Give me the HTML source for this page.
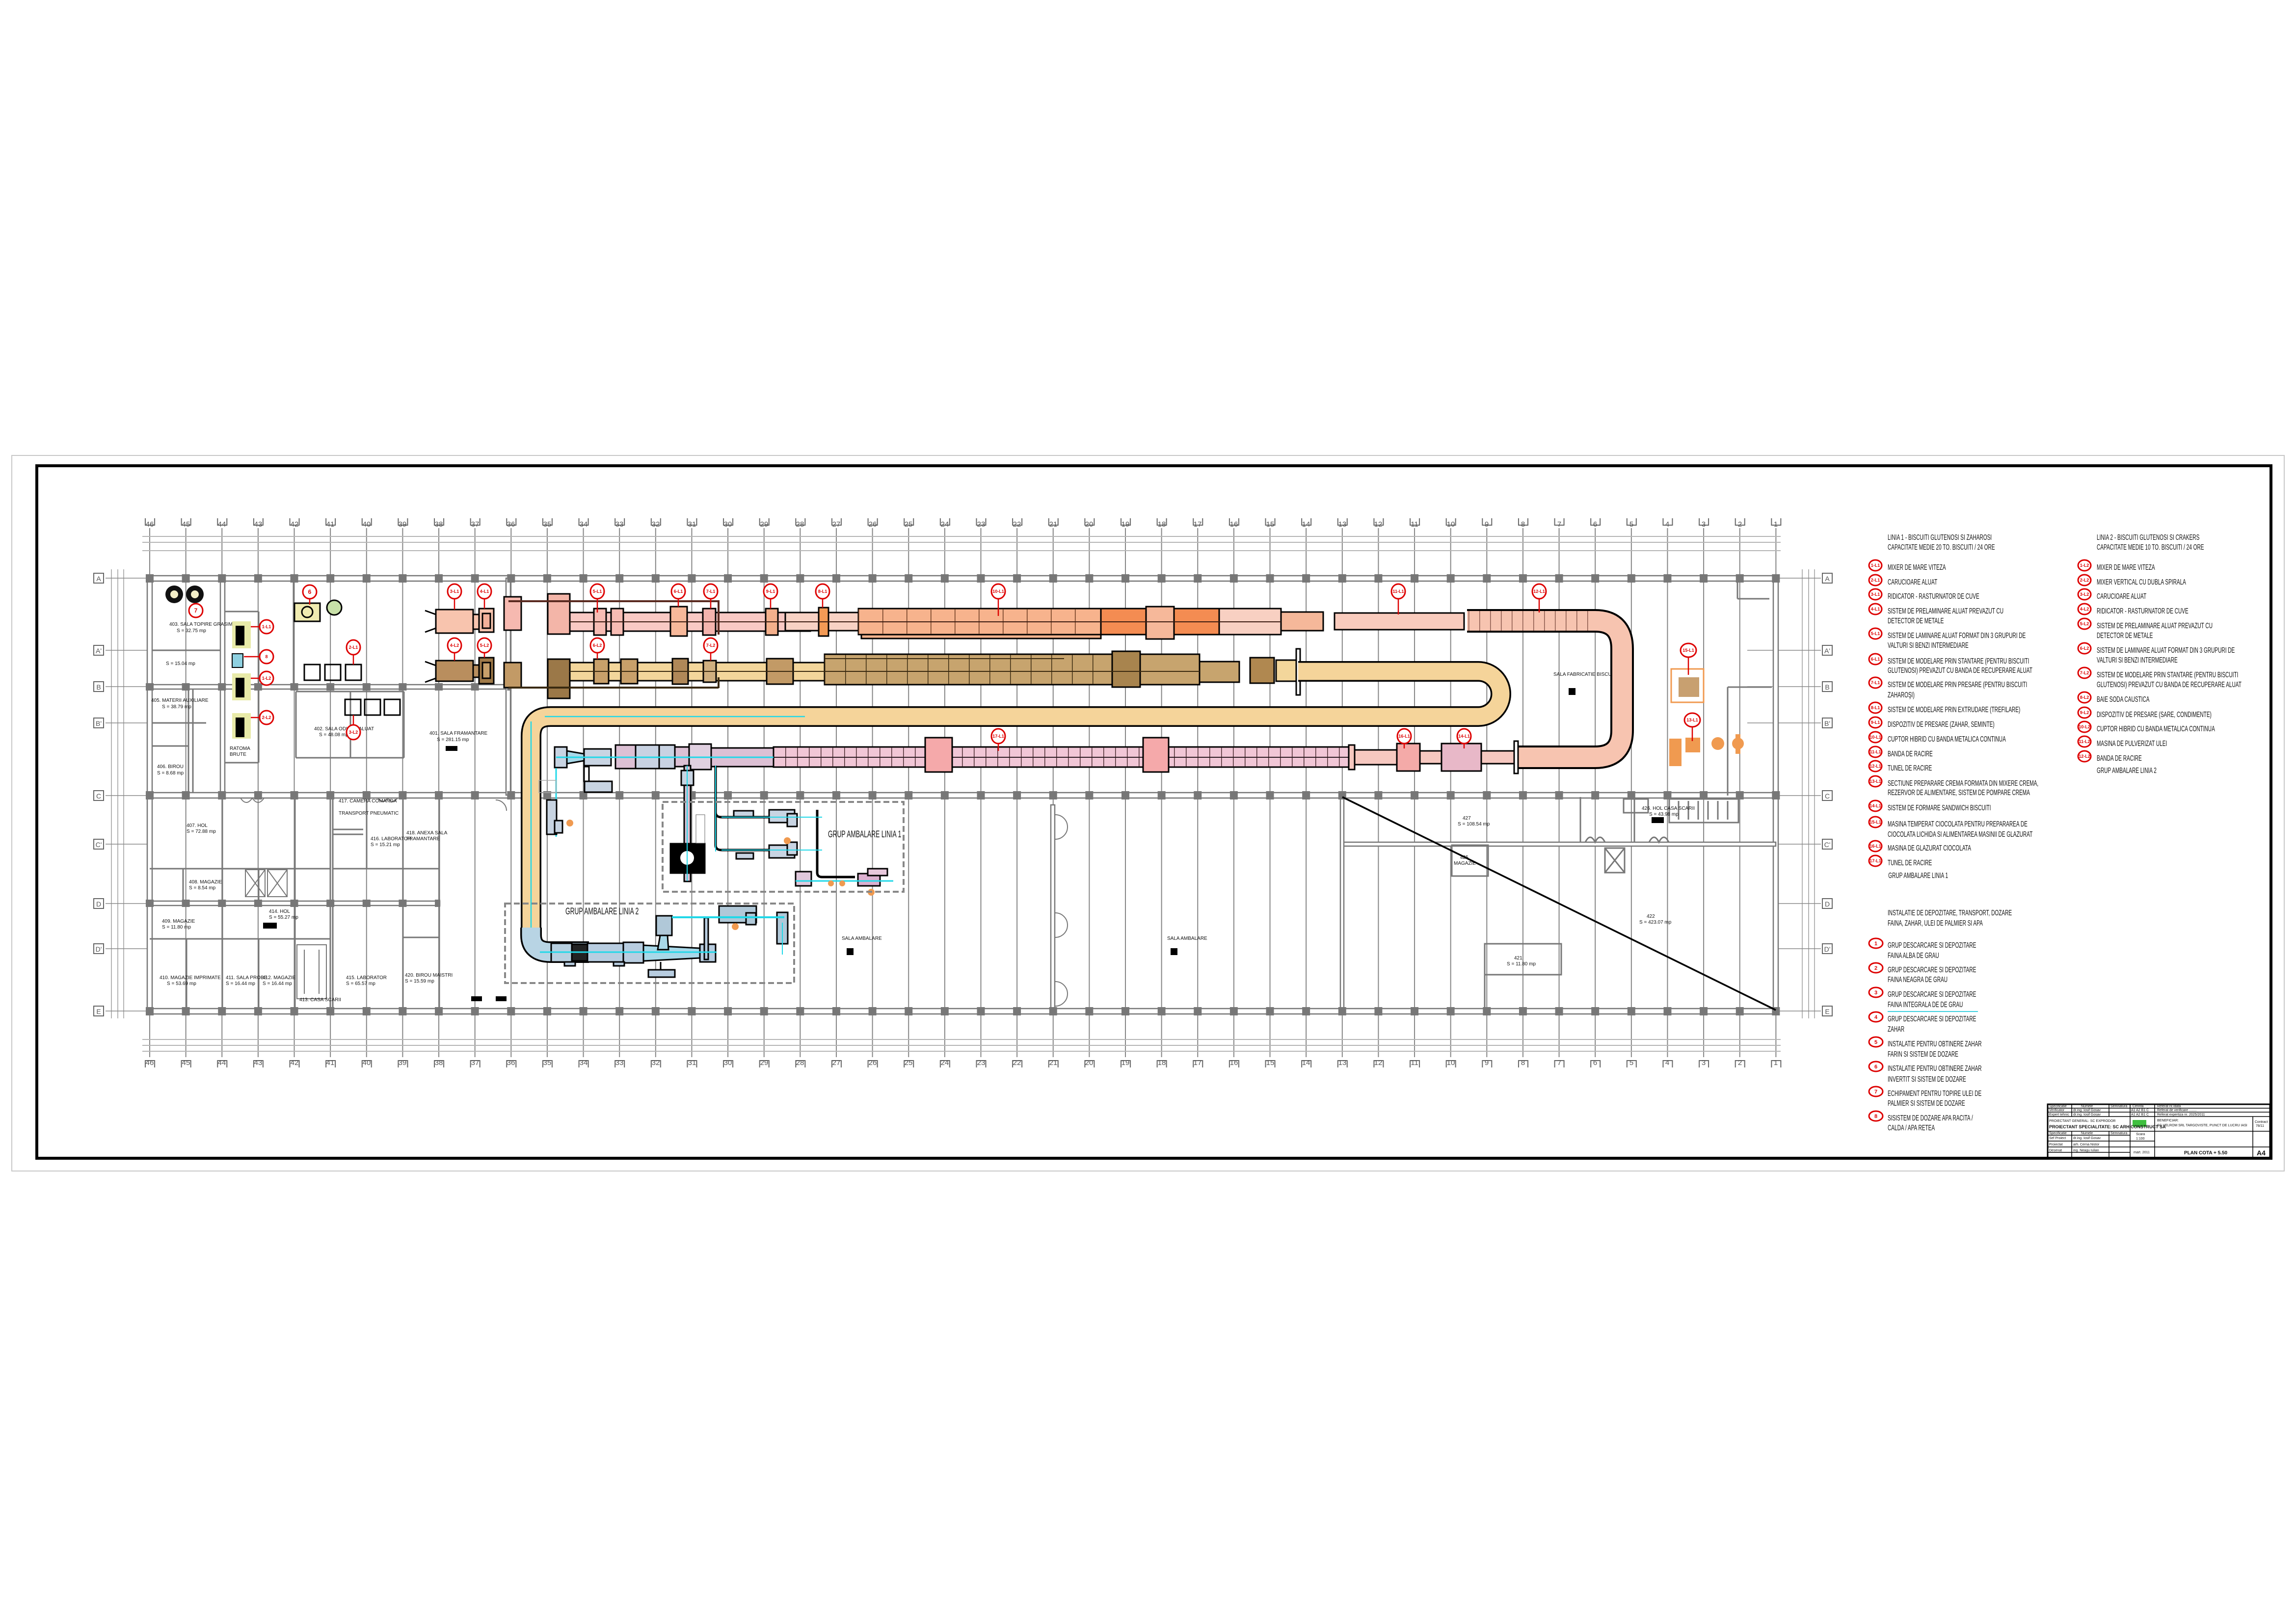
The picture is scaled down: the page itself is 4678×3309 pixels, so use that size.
<!DOCTYPE html>
<html><head><meta charset="utf-8"><title>Plan cota +5.50</title>
<style>html,body{margin:0;padding:0;background:#fff}svg{display:block}
.lg{font-family:"Liberation Sans",sans-serif;font-size:16px;fill:#111}
.rm{font-family:"Liberation Sans",sans-serif;font-size:10px;fill:#111}
.cl{font-family:"Liberation Sans",sans-serif;font-size:15px;fill:#555;text-anchor:middle}
.rl{font-family:"Liberation Sans",sans-serif;font-size:10px;font-weight:bold;fill:#d00;text-anchor:middle}
.tb{font-family:"Liberation Sans",sans-serif;font-size:7px;fill:#111}
</style></head><body>
<svg xmlns="http://www.w3.org/2000/svg" width="4678" height="3309" viewBox="0 0 4678 3309">
<defs>
<pattern id="vg" x="304" y="0" width="73.63" height="10" patternUnits="userSpaceOnUse"><rect x="0" y="0" width="2" height="10" fill="#858585"/></pattern>
<pattern id="cs" x="297" y="0" width="73.63" height="30" patternUnits="userSpaceOnUse"><rect x="0" y="0" width="16" height="30" fill="#777"/></pattern>
<pattern id="lb" x="295" y="0" width="73.63" height="30" patternUnits="userSpaceOnUse"><rect x="1" y="1" width="19" height="19" fill="#fff" stroke="#666" stroke-width="2"/></pattern>
<pattern id="s49" x="1749" y="0" width="49" height="10" patternUnits="userSpaceOnUse"><rect x="0" y="0" width="1.5" height="10" fill="#6a3a20"/></pattern>
<pattern id="s22" x="0" y="0" width="22" height="10" patternUnits="userSpaceOnUse"><rect x="0" y="0" width="1.5" height="10" fill="#5a2a20"/></pattern>
<pattern id="s24" x="1576" y="0" width="24" height="10" patternUnits="userSpaceOnUse"><rect x="0" y="0" width="1.5" height="10" fill="#4a2a30"/></pattern>
<pattern id="s42" x="1680" y="0" width="42" height="10" patternUnits="userSpaceOnUse"><rect x="0" y="0" width="1.5" height="10" fill="#3a2a10"/></pattern>
</defs>
<rect width="4678" height="3309" fill="#fff"/>
<!-- borders -->
<rect x="24" y="928" width="4630" height="1458" fill="none" stroke="#c8c8c8" stroke-width="2"/>
<rect x="75" y="949" width="4552" height="1411" fill="none" stroke="#000" stroke-width="6"/>

<!-- grid vertical lines -->
<rect x="300" y="1076" width="3325" height="1078" fill="url(#vg)"/>
<!-- column label boxes -->
<rect x="290" y="1056" width="3345" height="22" fill="url(#lb)"/>
<rect x="290" y="2153" width="3345" height="22" fill="url(#lb)"/>
<!-- dimension lines -->
<g stroke="#b5b5b5" stroke-width="2">
<line x1="290" y1="1093" x2="3628" y2="1093"/><line x1="290" y1="1105" x2="3628" y2="1105"/><line x1="290" y1="1122" x2="3628" y2="1122"/>
<line x1="290" y1="2118" x2="3628" y2="2118"/><line x1="290" y1="2130" x2="3628" y2="2130"/><line x1="290" y1="2142" x2="3628" y2="2142"/>
<line x1="227" y1="1160" x2="227" y2="2075"/><line x1="240" y1="1160" x2="240" y2="2075"/><line x1="252" y1="1160" x2="252" y2="2075"/>
<line x1="3672" y1="1160" x2="3672" y2="2075"/><line x1="3685" y1="1160" x2="3685" y2="2075"/><line x1="3697" y1="1160" x2="3697" y2="2075"/>
</g>
<!-- row lines & labels -->
<g stroke="#888" stroke-width="1.5">
<line x1="215" y1="1178" x2="3710" y2="1178"/><line x1="215" y1="1325" x2="306" y2="1325"/><line x1="3560" y1="1325" x2="3710" y2="1325"/>
<line x1="215" y1="1399" x2="306" y2="1399"/><line x1="3560" y1="1399" x2="3710" y2="1399"/><line x1="215" y1="1473" x2="306" y2="1473"/><line x1="3560" y1="1473" x2="3710" y2="1473"/>
<line x1="215" y1="1621" x2="306" y2="1621"/><line x1="3618" y1="1621" x2="3710" y2="1621"/><line x1="215" y1="1720" x2="306" y2="1720"/><line x1="3618" y1="1720" x2="3710" y2="1720"/>
<line x1="215" y1="1841" x2="306" y2="1841"/><line x1="3618" y1="1841" x2="3710" y2="1841"/><line x1="215" y1="1933" x2="306" y2="1933"/><line x1="3618" y1="1933" x2="3710" y2="1933"/>
<line x1="215" y1="2060" x2="306" y2="2060"/><line x1="3618" y1="2060" x2="3710" y2="2060"/>
</g>
<g fill="#fff" stroke="#666" stroke-width="2">
<rect x="191" y="1168" width="20" height="20"/><rect x="191" y="1315" width="20" height="20"/><rect x="191" y="1389" width="20" height="20"/><rect x="191" y="1463" width="20" height="20"/><rect x="191" y="1611" width="20" height="20"/><rect x="191" y="1710" width="20" height="20"/><rect x="191" y="1831" width="20" height="20"/><rect x="191" y="1923" width="20" height="20"/><rect x="191" y="2050" width="20" height="20"/>
<rect x="3713" y="1168" width="20" height="20"/><rect x="3713" y="1315" width="20" height="20"/><rect x="3713" y="1389" width="20" height="20"/><rect x="3713" y="1463" width="20" height="20"/><rect x="3713" y="1611" width="20" height="20"/><rect x="3713" y="1710" width="20" height="20"/><rect x="3713" y="1831" width="20" height="20"/><rect x="3713" y="1923" width="20" height="20"/><rect x="3713" y="2050" width="20" height="20"/>
</g>
<g class="cl" style="font-size:14px">
<text x="201" y="1184">A</text><text x="201" y="1331">A'</text><text x="201" y="1405">B</text><text x="201" y="1479">B'</text><text x="201" y="1627">C</text><text x="201" y="1726">C'</text><text x="201" y="1847">D</text><text x="201" y="1939">D'</text><text x="201" y="2066">E</text>
<text x="3723" y="1184">A</text><text x="3723" y="1331">A'</text><text x="3723" y="1405">B</text><text x="3723" y="1479">B'</text><text x="3723" y="1627">C</text><text x="3723" y="1726">C'</text><text x="3723" y="1847">D</text><text x="3723" y="1939">D'</text><text x="3723" y="2066">E</text>
</g>
<!-- column numbers -->
<g class="cl">
<text x="305" y="1073">46</text><text x="379" y="1073">45</text><text x="452" y="1073">44</text><text x="526" y="1073">43</text><text x="600" y="1073">42</text><text x="673" y="1073">41</text><text x="747" y="1073">40</text><text x="820" y="1073">39</text><text x="894" y="1073">38</text><text x="968" y="1073">37</text><text x="1041" y="1073">36</text><text x="1115" y="1073">35</text><text x="1189" y="1073">34</text><text x="1262" y="1073">33</text><text x="1336" y="1073">32</text><text x="1410" y="1073">31</text><text x="1483" y="1073">30</text><text x="1557" y="1073">29</text><text x="1630" y="1073">28</text><text x="1704" y="1073">27</text><text x="1778" y="1073">26</text><text x="1851" y="1073">25</text><text x="1925" y="1073">24</text><text x="1999" y="1073">23</text><text x="2072" y="1073">22</text><text x="2146" y="1073">21</text><text x="2219" y="1073">20</text><text x="2293" y="1073">19</text><text x="2367" y="1073">18</text><text x="2440" y="1073">17</text><text x="2514" y="1073">16</text><text x="2588" y="1073">15</text><text x="2661" y="1073">14</text><text x="2735" y="1073">13</text><text x="2808" y="1073">12</text><text x="2882" y="1073">11</text><text x="2956" y="1073">10</text><text x="3029" y="1073">9</text><text x="3103" y="1073">8</text><text x="3177" y="1073">7</text><text x="3250" y="1073">6</text><text x="3324" y="1073">5</text><text x="3397" y="1073">4</text><text x="3471" y="1073">3</text><text x="3545" y="1073">2</text><text x="3618" y="1073">1</text>
<text x="305" y="2170">46</text><text x="379" y="2170">45</text><text x="452" y="2170">44</text><text x="526" y="2170">43</text><text x="600" y="2170">42</text><text x="673" y="2170">41</text><text x="747" y="2170">40</text><text x="820" y="2170">39</text><text x="894" y="2170">38</text><text x="968" y="2170">37</text><text x="1041" y="2170">36</text><text x="1115" y="2170">35</text><text x="1189" y="2170">34</text><text x="1262" y="2170">33</text><text x="1336" y="2170">32</text><text x="1410" y="2170">31</text><text x="1483" y="2170">30</text><text x="1557" y="2170">29</text><text x="1630" y="2170">28</text><text x="1704" y="2170">27</text><text x="1778" y="2170">26</text><text x="1851" y="2170">25</text><text x="1925" y="2170">24</text><text x="1999" y="2170">23</text><text x="2072" y="2170">22</text><text x="2146" y="2170">21</text><text x="2219" y="2170">20</text><text x="2293" y="2170">19</text><text x="2367" y="2170">18</text><text x="2440" y="2170">17</text><text x="2514" y="2170">16</text><text x="2588" y="2170">15</text><text x="2661" y="2170">14</text><text x="2735" y="2170">13</text><text x="2808" y="2170">12</text><text x="2882" y="2170">11</text><text x="2956" y="2170">10</text><text x="3029" y="2170">9</text><text x="3103" y="2170">8</text><text x="3177" y="2170">7</text><text x="3250" y="2170">6</text><text x="3324" y="2170">5</text><text x="3397" y="2170">4</text><text x="3471" y="2170">3</text><text x="3545" y="2170">2</text><text x="3618" y="2170">1</text>
</g>

<!-- main walls -->
<g fill="#fff" stroke="#777" stroke-width="2.5">
<rect x="300" y="1173" width="3323" height="11"/>
<rect x="300" y="1615" width="3323" height="11"/>
<rect x="300" y="2055" width="3323" height="11"/>
<rect x="300" y="1395" width="740" height="9"/>
<rect x="300" y="1836" width="596" height="9"/>
<rect x="300" y="1173" width="10" height="893"/>
<rect x="3613" y="1173" width="10" height="893"/>
<rect x="1031" y="1178" width="9" height="442"/>
<rect x="449" y="1178" width="9" height="442"/>
<rect x="2141" y="1640" width="8" height="415"/>
<rect x="2735" y="1716" width="883" height="8"/>
<rect x="2731" y="1626" width="7" height="430"/>
</g>
<rect x="297" y="1170" width="3340" height="17" fill="url(#cs)"/>
<rect x="297" y="1612" width="3340" height="17" fill="url(#cs)"/>
<rect x="297" y="2052" width="3340" height="17" fill="url(#cs)"/>
<rect x="297" y="1392" width="745" height="15" fill="url(#cs)"/>
<rect x="297" y="1833" width="600" height="15" fill="url(#cs)"/>
<!-- interior walls left -->
<g stroke="#777" stroke-width="3" fill="none">
<line x1="384" y1="1404" x2="384" y2="1615"/><line x1="393" y1="1404" x2="393" y2="1615"/>
<line x1="598" y1="1184" x2="598" y2="1395"/><line x1="603" y1="1409" x2="823" y2="1409"/><line x1="603" y1="1544" x2="823" y2="1544"/><line x1="603" y1="1409" x2="603" y2="1544"/><line x1="823" y1="1409" x2="823" y2="1544"/><line x1="714" y1="1409" x2="714" y2="1544"/>
<line x1="458" y1="1246" x2="527" y2="1246"/><line x1="527" y1="1246" x2="527" y2="1554"/><line x1="458" y1="1554" x2="527" y2="1554"/>
<line x1="310" y1="1325" x2="450" y2="1325"/><line x1="310" y1="1473" x2="420" y2="1473"/><line x1="310" y1="1520" x2="384" y2="1520"/>
<line x1="453" y1="1626" x2="453" y2="2055"/><line x1="601" y1="1626" x2="601" y2="2055"/><line x1="673" y1="1626" x2="673" y2="2055"/><line x1="678" y1="1626" x2="678" y2="2055"/><line x1="747" y1="1626" x2="747" y2="1770"/><line x1="821" y1="1626" x2="821" y2="2055"/><line x1="895" y1="1626" x2="895" y2="2055"/>
<line x1="305" y1="1770" x2="673" y2="1770"/><line x1="678" y1="1770" x2="895" y2="1770"/><line x1="305" y1="1913" x2="673" y2="1913"/><line x1="821" y1="1910" x2="895" y2="1910"/>
<line x1="678" y1="1700" x2="740" y2="1700"/><line x1="678" y1="1690" x2="740" y2="1690"/>
<line x1="373" y1="1770" x2="373" y2="1840"/><line x1="527" y1="1770" x2="527" y2="1840"/><line x1="380" y1="1913" x2="380" y2="2055"/><line x1="527" y1="1913" x2="527" y2="2055"/>
</g>
<g stroke="#777" stroke-width="2" fill="none">
<rect x="500" y="1772" width="40" height="55"/><line x1="500" y1="1772" x2="540" y2="1827"/><line x1="540" y1="1772" x2="500" y2="1827"/>
<rect x="545" y="1772" width="40" height="55"/><line x1="545" y1="1772" x2="585" y2="1827"/><line x1="585" y1="1772" x2="545" y2="1827"/>
<rect x="605" y="1925" width="60" height="110"/><line x1="620" y1="1935" x2="620" y2="2025"/><line x1="650" y1="1935" x2="650" y2="2025"/>
<path d="M490 1626 q12 18 24 0 q12 18 24 0"/><path d="M770 1626 q10 14 20 0 q10 14 20 0"/>
<path d="M1010 1630 a22 22 0 0 1 22 22"/><path d="M2150 1660 a25 25 0 0 1 0 50"/><path d="M2150 1860 a25 25 0 0 1 0 50"/><path d="M2150 2000 a25 25 0 0 1 0 50"/>
</g>
<!-- right area -->
<g stroke="#777" stroke-width="3" fill="none">
<rect x="2958" y="1722" width="74" height="63"/><rect x="3025" y="1923" width="156" height="63"/><line x1="3025" y1="1986" x2="3025" y2="2055"/>
<rect x="3401" y="1628" width="141" height="48"/><rect x="3308" y="1628" width="50" height="28"/><rect x="3270" y="1728" width="40" height="50"/>
<line x1="3270" y1="1728" x2="3310" y2="1778"/><line x1="3310" y1="1728" x2="3270" y2="1778"/>
<line x1="3330" y1="1625" x2="3330" y2="1716"/><line x1="3220" y1="1624" x2="3220" y2="1716"/>
<path d="M3230 1716 q10 -20 20 0 q10 -20 20 0"/><path d="M3360 1716 q10 -20 20 0 q10 -20 20 0"/>
<line x1="3420" y1="1632" x2="3420" y2="1670"/><line x1="3440" y1="1632" x2="3440" y2="1670"/><line x1="3460" y1="1632" x2="3460" y2="1670"/><line x1="3480" y1="1632" x2="3480" y2="1670"/><line x1="3500" y1="1632" x2="3500" y2="1670"/><line x1="3520" y1="1632" x2="3520" y2="1670"/>
<line x1="3540" y1="1178" x2="3540" y2="1220"/><line x1="3540" y1="1220" x2="3605" y2="1220"/>
<line x1="3520" y1="1400" x2="3520" y2="1621"/><line x1="3520" y1="1400" x2="3610" y2="1400"/>
</g>
<line x1="2735" y1="1624" x2="3618" y2="2058" stroke="#000" stroke-width="3.5"/>

<!-- room texts -->
<g class="rm">
<text x="345" y="1275">403. SALA TOPIRE GRASIMI</text><text x="360" y="1288">S = 32.75 mp</text>
<text x="338" y="1355">S = 15.04 mp</text>
<text x="308" y="1430">405. MATERII AUXILIARE</text><text x="330" y="1443">S = 38.79 mp</text>
<text x="320" y="1565">406. BIROU</text><text x="320" y="1578">S = 8.68 mp</text>
<text x="468" y="1528">RATOMA</text><text x="468" y="1540">BRUTE</text>
<text x="640" y="1488">402. SALA ODIHNA ALUAT</text><text x="650" y="1500">S = 48.08 mp</text>
<text x="875" y="1497">401. SALA FRAMANTARE</text><text x="890" y="1510">S = 281.15 mp</text>
<text x="380" y="1685">407. HOL</text><text x="380" y="1697">S = 72.88 mp</text>
<text x="385" y="1800">408. MAGAZIE</text><text x="385" y="1812">S = 8.54 mp</text>
<text x="330" y="1880">409. MAGAZIE</text><text x="330" y="1892">S = 11.80 mp</text>
<text x="325" y="1995">410. MAGAZIE IMPRIMATE</text><text x="340" y="2007">S = 53.69 mp</text>
<text x="460" y="1995">411. SALA PROBE</text><text x="460" y="2007">S = 16.44 mp</text>
<text x="535" y="1995">412. MAGAZIE</text><text x="535" y="2007">S = 16.44 mp</text>
<text x="548" y="1860">414. HOL</text><text x="548" y="1872">S = 55.27 mp</text>
<text x="610" y="2040">413. CASA SCARII</text>
<text x="690" y="1635">417. CAMERA COMANDA</text><text x="690" y="1660">TRANSPORT PNEUMATIC</text>
<text x="755" y="1712">416. LABORATOR</text><text x="755" y="1724">S = 15.21 mp</text>
<text x="828" y="1700">418. ANEXA SALA</text><text x="828" y="1712">FRAMANTARE</text>
<text x="705" y="1995">415. LABORATOR</text><text x="705" y="2007">S = 65.57 mp</text>
<text x="825" y="1990">420. BIROU MAISTRI</text><text x="825" y="2002">S = 15.59 mp</text>
<text x="1715" y="1915">SALA AMBALARE</text><text x="2378" y="1915">SALA AMBALARE</text>
<text x="2980" y="1670">427</text><text x="2970" y="1682">S = 108.54 mp</text>
<text x="2975" y="1750">425</text><text x="2962" y="1762">MAGAZIE</text>
<text x="3085" y="1955">421</text><text x="3070" y="1967">S = 11.80 mp</text>
<text x="3355" y="1870">422</text><text x="3340" y="1882">S = 423.07 mp</text>
<text x="3345" y="1650">426. HOL CASA SCARII</text><text x="3360" y="1662">S = 43.98 mp</text>
<text x="3165" y="1377">SALA FABRICATIE BISCUITI</text>
</g>
<g fill="#000"><rect x="908" y="1520" width="24" height="10"/><rect x="536" y="1880" width="28" height="12"/><rect x="1725" y="1932" width="14" height="14"/><rect x="2385" y="1932" width="14" height="14"/><rect x="3196" y="1402" width="14" height="14"/><rect x="3365" y="1665" width="25" height="12"/><rect x="960" y="2030" width="22" height="10"/><rect x="1010" y="2030" width="22" height="10"/></g>

<!-- LEFT EQUIPMENT -->
<g>
<circle cx="355" cy="1211" r="18" fill="#111"/><circle cx="355" cy="1211" r="8" fill="#f4efc8"/>
<circle cx="397" cy="1211" r="18" fill="#111"/><circle cx="397" cy="1211" r="8" fill="#f4efc8"/>
<rect x="600" y="1229" width="52" height="37" fill="#f0ebb0" stroke="#000" stroke-width="3"/><circle cx="626" cy="1247" r="11" fill="none" stroke="#000" stroke-width="3"/>
<circle cx="681" cy="1238" r="15" fill="#c8e0a8" stroke="#000" stroke-width="3"/>
<rect x="473" y="1266" width="38" height="55" fill="#e8eaa8"/><rect x="480" y="1275" width="18" height="40" fill="#000"/>
<rect x="473" y="1332" width="22" height="28" fill="#8ed0e0" stroke="#000" stroke-width="2"/>
<rect x="473" y="1372" width="38" height="55" fill="#e8eaa8"/><rect x="480" y="1381" width="18" height="40" fill="#000"/>
<rect x="473" y="1453" width="38" height="52" fill="#e8eaa8"/><rect x="480" y="1462" width="18" height="40" fill="#000"/>
<g fill="none" stroke="#000" stroke-width="3"><rect x="620" y="1354" width="32" height="32"/><rect x="662" y="1354" width="32" height="32"/><rect x="704" y="1354" width="32" height="32"/><rect x="703" y="1425" width="32" height="32"/><rect x="743" y="1425" width="32" height="32"/><rect x="783" y="1425" width="32" height="32"/></g>
</g>

<!-- LINE 1 TOP -->
<g stroke="#000" stroke-width="3">
<path d="M866 1244 L888 1252 M866 1288 L888 1280" fill="none"/>
<rect x="888" y="1242" width="76" height="48" fill="#f8c4ae"/>
<rect x="964" y="1252" width="12" height="30" fill="#f8c4ae"/>
<rect x="976" y="1240" width="30" height="48" fill="#f8c4ae"/><rect x="983" y="1250" width="16" height="30" fill="#f3b19a"/>
<rect x="1027" y="1216" width="35" height="68" fill="#f6b9b0"/>
<rect x="1116" y="1210" width="45" height="82" fill="#f3b5a8"/>
<rect x="1161" y="1248" width="490" height="38" fill="#f9c9c4"/>
<rect x="1210" y="1240" width="25" height="54" fill="#f7bcb4"/><rect x="1245" y="1240" width="25" height="54" fill="#f7bcb4"/>
<rect x="1366" y="1236" width="34" height="60" fill="#f7b89a"/><rect x="1432" y="1240" width="26" height="54" fill="#f4b4ae"/>
<rect x="1560" y="1240" width="25" height="54" fill="#f4b08c"/>
<rect x="1600" y="1248" width="149" height="37" fill="#f8d2c4"/>
<rect x="1668" y="1238" width="20" height="58" fill="#f39a55"/>
<rect x="1749" y="1240" width="861" height="53" fill="#f7b38d"/>
<rect x="1755" y="1293" width="488" height="8" fill="#f7b38d"/>
<rect x="2243" y="1240" width="92" height="53" fill="#f48c52"/>
<rect x="2392" y="1240" width="92" height="53" fill="#f48c52"/>
<rect x="2335" y="1236" width="57" height="66" fill="#f6b89a"/>
<rect x="2484" y="1240" width="126" height="53" fill="#f8d0c2"/>
<rect x="2610" y="1247" width="86" height="38" fill="#f5b89a"/>
<rect x="2719" y="1249" width="264" height="34" fill="#f9cbbd"/>
</g>
<rect x="1749" y="1241" width="490" height="51" fill="url(#s49)"/>
<rect x="1036" y="1223" width="428" height="4" fill="#5a2a20"/><rect x="1462" y="1223" width="4" height="70" fill="#5a2a20"/>
<line x1="1161" y1="1267" x2="2610" y2="1267" stroke="#3a1a10" stroke-width="2"/>
<!-- U pipe line1 -->
<path d="M2989 1265 L3250 1265 Q3305 1265 3305 1322 L3305 1488 Q3305 1543 3250 1543 L3087 1543" fill="none" stroke="#000" stroke-width="48"/>
<path d="M2989 1265 L3250 1265 Q3305 1265 3305 1322 L3305 1488 Q3305 1543 3250 1543 L3087 1543" fill="none" stroke="#f7c4b0" stroke-width="40"/>
<rect x="2989" y="1245" width="264" height="40" fill="url(#s22)" opacity="0.7"/>

<!-- LINE 1 BOTTOM (pink) -->
<g stroke="#000" stroke-width="3">
<rect x="1576" y="1522" width="1172" height="41" fill="#f1c6d6"/>
</g>
<rect x="1576" y="1523" width="1172" height="39" fill="url(#s24)"/>
<line x1="1576" y1="1543" x2="2748" y2="1543" stroke="#2a1a20" stroke-width="2"/>
<g stroke="#000" stroke-width="3">
<rect x="1885" y="1503" width="55" height="70" fill="#f5a9aa"/>
<rect x="2329" y="1503" width="52" height="70" fill="#f5a9aa"/>
<rect x="2748" y="1518" width="12" height="50" fill="#f6c8c0"/>
<rect x="2760" y="1528" width="86" height="30" fill="#f6c8c0"/>
<rect x="2846" y="1515" width="47" height="56" fill="#f4aaa8"/>
<rect x="2893" y="1530" width="44" height="26" fill="#f6c8c0"/>
<rect x="2937" y="1515" width="81" height="56" fill="#e8b8c8"/>
<rect x="3018" y="1530" width="69" height="26" fill="#f6c8c0"/>
<rect x="3085" y="1510" width="8" height="66" fill="#fff"/>
</g>
<!-- left part of pink line -->
<g stroke="#000" stroke-width="3">
<rect x="1130" y="1522" width="25" height="42" fill="#c8d4e2"/>
<path d="M1155 1530 L1190 1536 L1190 1550 L1155 1556 Z" fill="#a8d8e8"/>
<rect x="1190" y="1526" width="55" height="34" fill="#c8d4e2"/>
<rect x="1254" y="1518" width="41" height="48" fill="#dcc0d4"/>
<rect x="1295" y="1518" width="48" height="48" fill="#c8d2e2"/>
<rect x="1343" y="1518" width="32" height="48" fill="#c8d2e2"/>
<rect x="1375" y="1522" width="29" height="40" fill="#dcc0d4"/>
<rect x="1404" y="1516" width="45" height="52" fill="#e0d0e0"/>
<rect x="1449" y="1524" width="127" height="38" fill="#dcc0d4"/>
<rect x="1190" y="1562" width="10" height="30" fill="#fff"/>
<rect x="1191" y="1592" width="56" height="22" fill="#c8d4e2"/>
</g>
<line x1="1133" y1="1543" x2="1576" y2="1543" stroke="#20d8e8" stroke-width="3"/>

<!-- LINE 2 -->
<g stroke="#000" stroke-width="3">
<path d="M866 1348 L888 1356 M866 1390 L888 1382" fill="none"/>
<rect x="888" y="1346" width="76" height="42" fill="#b98e5e"/>
<rect x="964" y="1355" width="12" height="25" fill="#b98e5e"/>
<rect x="976" y="1340" width="30" height="53" fill="#a07a48"/><rect x="983" y="1350" width="16" height="32" fill="#c8a06a"/>
<rect x="1027" y="1350" width="35" height="51" fill="#c29a66"/>
<rect x="1116" y="1343" width="45" height="80" fill="#9b7848"/>
<rect x="1161" y="1350" width="519" height="37" fill="#f3d69b"/>
<rect x="1210" y="1343" width="30" height="50" fill="#c8a06a"/><rect x="1265" y="1343" width="34" height="50" fill="#c8a06a"/>
<rect x="1370" y="1342" width="32" height="52" fill="#b08858"/><rect x="1433" y="1346" width="26" height="44" fill="#d0b080"/>
<rect x="1562" y="1342" width="54" height="52" fill="#c29a66"/>
<rect x="1680" y="1333" width="764" height="62" fill="#c7a46e"/>
<rect x="2266" y="1327" width="57" height="73" fill="#a8844e"/>
<rect x="2444" y="1348" width="81" height="42" fill="#c7a46e"/>
<rect x="2547" y="1340" width="49" height="52" fill="#b08850"/>
<rect x="2600" y="1345" width="45" height="43" fill="#f3d69b"/>
<rect x="2641" y="1322" width="8" height="94" fill="#fff"/>
</g>
<rect x="1680" y="1334" width="586" height="60" fill="url(#s42)"/>
<line x1="1680" y1="1342" x2="2168" y2="1342" stroke="#3a2a10" stroke-width="2"/>
<line x1="1161" y1="1368" x2="2444" y2="1368" stroke="#3a2a10" stroke-width="2"/>
<rect x="1036" y="1399" width="428" height="4" fill="#3a2a10"/><rect x="1462" y="1380" width="4" height="22" fill="#3a2a10"/>
<!-- tan return pipe -->
<path d="M2645 1368 L3012 1368 A46 46 0 0 1 3012 1460 L1122 1460 Q1082 1460 1082 1500 L1082 1895" fill="none" stroke="#000" stroke-width="42"/>
<path d="M2645 1368 L3012 1368 A46 46 0 0 1 3012 1460 L1122 1460 Q1082 1460 1082 1500 L1082 1895" fill="none" stroke="#f5d49a" stroke-width="35"/>
<line x1="1082" y1="1470" x2="1082" y2="1895" stroke="#20d8e8" stroke-width="2.5"/>
<line x1="1110" y1="1460" x2="1640" y2="1460" stroke="#20d8e8" stroke-width="2.5"/>
<!-- blue bottom curve line 2 -->
<path d="M1082 1890 L1082 1905 Q1082 1940 1122 1940 L1200 1940" fill="none" stroke="#000" stroke-width="44"/>
<path d="M1082 1890 L1082 1905 Q1082 1940 1122 1940 L1200 1940" fill="none" stroke="#b8d4e4" stroke-width="37"/>
<g stroke="#000" stroke-width="3">
<rect x="1123" y="1922" width="42" height="38" fill="#b8d0e0"/>
<rect x="1165" y="1924" width="32" height="34" fill="#222"/>
<rect x="1197" y="1922" width="73" height="38" fill="#b8cde0"/>
<rect x="1270" y="1920" width="41" height="42" fill="#b8cde0"/>
<path d="M1311 1926 L1426 1932 L1426 1952 L1311 1958 Z" fill="#a8d8e8"/>
<rect x="1426" y="1924" width="32" height="36" fill="#b8cde0"/>
<rect x="1150" y="1960" width="22" height="8" fill="#b8cde0"/><rect x="1250" y="1960" width="22" height="8" fill="#b8cde0"/>
<rect x="1321" y="1976" width="54" height="15" fill="#b8cde0"/>
<line x1="1346" y1="1960" x2="1346" y2="1976"/>
<rect x="1337" y="1866" width="32" height="40" fill="#b0c8d8"/>
<path d="M1345 1906 L1340 1935 L1362 1935 L1360 1906 Z" fill="#a8d8e8"/>
<rect x="1435" y="1870" width="8" height="85" fill="#b8cde0"/>
<rect x="1465" y="1846" width="76" height="34" fill="#b0c8d8"/>
<rect x="1520" y="1860" width="20" height="24" fill="#b0c8d8"/>
<rect x="1583" y="1859" width="22" height="64" fill="#b0c8d8"/>
</g>
<line x1="1100" y1="1940" x2="1460" y2="1940" stroke="#20d8e8" stroke-width="3"/>
<line x1="1369" y1="1869" x2="1598" y2="1869" stroke="#20d8e8" stroke-width="4"/>
<line x1="1594" y1="1880" x2="1594" y2="1945" stroke="#20d8e8" stroke-width="2"/>

<!-- packaging line 1 equipment -->
<g stroke="#000" stroke-width="3">
<rect x="1394" y="1560" width="13" height="236" fill="#dcc0d4"/>
<rect x="1388" y="1570" width="25" height="30" fill="#c8d4e2"/>
<rect x="1366" y="1719" width="70" height="60" fill="#000"/>
<rect x="1418" y="1660" width="18" height="58" fill="#fff" stroke="#666" stroke-width="1"/>
<path d="M1458 1560 L1458 1655 Q1458 1665 1470 1665 L1568 1665 M1458 1655 L1458 1722 Q1458 1732 1470 1732 L1568 1732" fill="none" stroke="#000" stroke-width="5"/>
<rect x="1495" y="1652" width="40" height="12" fill="#c8d4e2"/><rect x="1500" y="1738" width="35" height="12" fill="#c8d4e2"/>
<rect x="1567" y="1650" width="52" height="26" fill="#c8d4e2"/><rect x="1604" y="1658" width="20" height="26" fill="#c8d4e2"/>
<rect x="1567" y="1722" width="52" height="26" fill="#c8d4e2"/><rect x="1604" y="1716" width="20" height="26" fill="#c8d4e2"/>
<path d="M1665 1650 L1665 1778 Q1665 1787 1675 1787 L1742 1787" fill="none" stroke="#000" stroke-width="5"/>
<rect x="1621" y="1776" width="32" height="29" fill="#e0c8dc"/>
<rect x="1748" y="1780" width="45" height="25" fill="#dcb0d0"/><rect x="1768" y="1770" width="40" height="14" fill="#e8c8dc"/>
</g>
<circle cx="1400" cy="1748" r="14" fill="#fff"/>
<line x1="1400" y1="1560" x2="1400" y2="1795" stroke="#20d8e8" stroke-width="2"/>
<line x1="1458" y1="1560" x2="1458" y2="1735" stroke="#20d8e8" stroke-width="2"/>
<line x1="1470" y1="1665" x2="1675" y2="1665" stroke="#20d8e8" stroke-width="2"/><line x1="1470" y1="1732" x2="1675" y2="1732" stroke="#20d8e8" stroke-width="2"/>
<line x1="1621" y1="1795" x2="1820" y2="1795" stroke="#20d8e8" stroke-width="3"/>
<!-- left vertical branch -->
<line x1="1133" y1="1565" x2="1133" y2="1705" stroke="#20d8e8" stroke-width="3"/>
<rect x="1114" y="1630" width="20" height="70" fill="#c8d4e2" stroke="#000" stroke-width="3"/>
<rect x="1130" y="1672" width="16" height="25" fill="#c8d4e2" stroke="#000" stroke-width="3"/>
<rect x="1098" y="1590" width="35" height="25" fill="none" stroke="#aaa" stroke-width="1.5"/>
<!-- orange swirls -->
<g fill="#f09a50"><circle cx="1161" cy="1677" r="7"/><circle cx="1604" cy="1713" r="7"/><circle cx="1693" cy="1800" r="6"/><circle cx="1716" cy="1800" r="6"/><circle cx="1775" cy="1818" r="7"/><circle cx="1498" cy="1888" r="7"/></g>
<!-- dashed groups -->
<g fill="none" stroke="#888" stroke-width="4" stroke-dasharray="12 6">
<rect x="1350" y="1634" width="491" height="183"/>
<rect x="1029" y="1841" width="589" height="162"/>
</g>
<g font-family="Liberation Sans, sans-serif" font-size="19" fill="#111">
<text transform="translate(1687 1706) scale(0.65 1)">GRUP AMBALARE LINIA 1</text>
<text transform="translate(1152 1863) scale(0.65 1)">GRUP AMBALARE LINIA 2</text>
</g>

<!-- right area equipment 15-L1 / 13-L1 -->
<rect x="3405" y="1363" width="66" height="68" fill="#fff" stroke="#f09a50" stroke-width="3"/>
<rect x="3420" y="1380" width="42" height="40" fill="#c8a070"/>
<rect x="3401" y="1505" width="25" height="56" fill="#f09a50"/><rect x="3434" y="1503" width="30" height="30" fill="#f09a50"/>
<circle cx="3500" cy="1515" r="13" fill="#f09a50"/><circle cx="3541" cy="1515" r="12" fill="#f09a50"/><rect x="3536" y="1496" width="10" height="40" fill="#f09a50"/>

<!-- plan red labels -->
<g fill="#fff" stroke="#d00" stroke-width="3">
<g stroke-width="2.5"><line x1="926" y1="1220" x2="926" y2="1242"/><line x1="987" y1="1220" x2="987" y2="1240"/><line x1="1217" y1="1220" x2="1217" y2="1248"/><line x1="1382" y1="1220" x2="1382" y2="1236"/><line x1="1448" y1="1220" x2="1448" y2="1240"/><line x1="1570" y1="1220" x2="1570" y2="1240"/><line x1="1676" y1="1220" x2="1676" y2="1238"/><line x1="2034" y1="1220" x2="2034" y2="1255"/><line x1="2849" y1="1220" x2="2849" y2="1252"/><line x1="3136" y1="1220" x2="3136" y2="1248"/>
<line x1="926" y1="1330" x2="926" y2="1346"/><line x1="987" y1="1330" x2="987" y2="1340"/><line x1="1217" y1="1330" x2="1217" y2="1343"/><line x1="1448" y1="1330" x2="1448" y2="1346"/>
<line x1="2034" y1="1515" x2="2034" y2="1530"/><line x1="2861" y1="1515" x2="2861" y2="1525"/><line x1="2983" y1="1515" x2="2983" y2="1525"/>
<line x1="3440" y1="1340" x2="3440" y2="1375"/><line x1="3448" y1="1482" x2="3448" y2="1510"/>
<line x1="720" y1="1334" x2="720" y2="1354"/><line x1="720" y1="1477" x2="720" y2="1457"/>
<line x1="529" y1="1277" x2="511" y2="1277"/><line x1="529" y1="1338" x2="497" y2="1338"/><line x1="529" y1="1382" x2="511" y2="1382"/><line x1="529" y1="1462" x2="511" y2="1462"/>
<line x1="397" y1="1229" x2="397" y2="1230"/><line x1="631" y1="1221" x2="631" y2="1232"/>
</g>
<ellipse cx="926" cy="1205" rx="14" ry="15"/><ellipse cx="987" cy="1205" rx="14" ry="15"/><ellipse cx="1217" cy="1205" rx="14" ry="15"/><ellipse cx="1382" cy="1205" rx="14" ry="15"/><ellipse cx="1448" cy="1205" rx="14" ry="15"/><ellipse cx="1570" cy="1205" rx="14" ry="15"/><ellipse cx="1676" cy="1205" rx="14" ry="15"/><ellipse cx="2034" cy="1205" rx="14" ry="15"/><ellipse cx="2849" cy="1205" rx="14" ry="15"/><ellipse cx="3136" cy="1205" rx="14" ry="15"/>
<ellipse cx="926" cy="1315" rx="14" ry="15"/><ellipse cx="987" cy="1315" rx="14" ry="15"/><ellipse cx="1217" cy="1315" rx="14" ry="15"/><ellipse cx="1448" cy="1315" rx="14" ry="15"/>
<ellipse cx="2034" cy="1500" rx="14" ry="15"/><ellipse cx="2861" cy="1500" rx="14" ry="15"/><ellipse cx="2983" cy="1500" rx="14" ry="15"/>
<ellipse cx="3440" cy="1325" rx="16" ry="14"/><ellipse cx="3448" cy="1467" rx="16" ry="14"/>
<ellipse cx="720" cy="1319" rx="14" ry="15"/><ellipse cx="720" cy="1492" rx="14" ry="15"/>
<ellipse cx="543" cy="1277" rx="14" ry="14"/><ellipse cx="543" cy="1338" rx="14" ry="14"/><ellipse cx="543" cy="1382" rx="14" ry="14"/><ellipse cx="543" cy="1462" rx="14" ry="14"/>
<ellipse cx="399" cy="1244" rx="14" ry="14"/><ellipse cx="631" cy="1206" rx="14" ry="14"/>
</g>
<g class="rl" style="font-size:9px">
<text x="926" y="1208">3-L1</text><text x="987" y="1208">4-L1</text><text x="1217" y="1208">5-L1</text><text x="1382" y="1208">6-L1</text><text x="1448" y="1208">7-L1</text><text x="1570" y="1208">9-L1</text><text x="1676" y="1208">8-L1</text><text x="2034" y="1208">10-L1</text><text x="2849" y="1208">11-L1</text><text x="3136" y="1208">12-L1</text>
<text x="926" y="1318">4-L2</text><text x="987" y="1318">5-L2</text><text x="1217" y="1318">6-L2</text><text x="1448" y="1318">7-L2</text>
<text x="2034" y="1503">17-L1</text><text x="2861" y="1503">16-L1</text><text x="2983" y="1503">14-L1</text>
<text x="3440" y="1328">15-L1</text><text x="3448" y="1470">13-L1</text>
<text x="720" y="1322">2-L1</text><text x="720" y="1495">3-L2</text>
<text x="543" y="1280">1-L1</text><text x="543" y="1341">8</text><text x="543" y="1385">1-L2</text><text x="543" y="1465">2-L2</text>
<text x="399" y="1248" style="font-size:12px">7</text><text x="631" y="1210" style="font-size:12px">6</text>
</g>

<!-- LEGEND -->
<g fill="#fff" stroke="#d00" stroke-width="3">
<ellipse cx="3821" cy="1152" rx="13" ry="11"/><ellipse cx="3821" cy="1182" rx="13" ry="11"/><ellipse cx="3821" cy="1211" rx="13" ry="11"/><ellipse cx="3821" cy="1241" rx="13" ry="11"/><ellipse cx="3821" cy="1291" rx="13" ry="11"/><ellipse cx="3821" cy="1343" rx="13" ry="11"/><ellipse cx="3821" cy="1391" rx="13" ry="11"/><ellipse cx="3821" cy="1442" rx="13" ry="11"/><ellipse cx="3821" cy="1472" rx="13" ry="11"/><ellipse cx="3821" cy="1502" rx="13" ry="11"/><ellipse cx="3821" cy="1532" rx="13" ry="11"/><ellipse cx="3821" cy="1561" rx="13" ry="11"/><ellipse cx="3821" cy="1592" rx="13" ry="11"/><ellipse cx="3821" cy="1642" rx="13" ry="11"/><ellipse cx="3821" cy="1675" rx="13" ry="11"/><ellipse cx="3821" cy="1724" rx="13" ry="11"/><ellipse cx="3821" cy="1754" rx="13" ry="11"/>
<ellipse cx="4247" cy="1152" rx="13" ry="11"/><ellipse cx="4247" cy="1182" rx="13" ry="11"/><ellipse cx="4247" cy="1211" rx="13" ry="11"/><ellipse cx="4247" cy="1241" rx="13" ry="11"/><ellipse cx="4247" cy="1271" rx="13" ry="11"/><ellipse cx="4247" cy="1321" rx="13" ry="11"/><ellipse cx="4247" cy="1371" rx="13" ry="11"/><ellipse cx="4247" cy="1421" rx="13" ry="11"/><ellipse cx="4247" cy="1452" rx="13" ry="11"/><ellipse cx="4247" cy="1481" rx="13" ry="11"/><ellipse cx="4247" cy="1511" rx="13" ry="11"/><ellipse cx="4247" cy="1541" rx="13" ry="11"/>
<ellipse cx="3822" cy="1922" rx="14" ry="10"/><ellipse cx="3822" cy="1972" rx="14" ry="10"/><ellipse cx="3822" cy="2022" rx="14" ry="10"/><ellipse cx="3822" cy="2072" rx="14" ry="10"/><ellipse cx="3822" cy="2123" rx="14" ry="10"/><ellipse cx="3822" cy="2173" rx="14" ry="10"/><ellipse cx="3822" cy="2224" rx="14" ry="10"/><ellipse cx="3822" cy="2274" rx="14" ry="10"/>
</g>
<g class="rl" style="font-size:9px">
<text x="3821" y="1155">1-L1</text><text x="3821" y="1185">2-L1</text><text x="3821" y="1214">3-L1</text><text x="3821" y="1244">4-L1</text><text x="3821" y="1294">5-L1</text><text x="3821" y="1346">6-L1</text><text x="3821" y="1394">7-L1</text><text x="3821" y="1445">8-L1</text><text x="3821" y="1475">9-L1</text><text x="3821" y="1505">10-L1</text><text x="3821" y="1535">11-L1</text><text x="3821" y="1564">12-L1</text><text x="3821" y="1595">13-L1</text><text x="3821" y="1645">14-L1</text><text x="3821" y="1678">15-L1</text><text x="3821" y="1727">16-L1</text><text x="3821" y="1757">17-L1</text>
<text x="4247" y="1155">1-L2</text><text x="4247" y="1185">2-L2</text><text x="4247" y="1214">3-L2</text><text x="4247" y="1244">4-L2</text><text x="4247" y="1274">5-L2</text><text x="4247" y="1324">6-L2</text><text x="4247" y="1374">7-L2</text><text x="4247" y="1424">8-L2</text><text x="4247" y="1455">9-L2</text><text x="4247" y="1484">10-L2</text><text x="4247" y="1514">11-L2</text><text x="4247" y="1544">12-L2</text>
<text x="3822" y="1926" style="font-size:11px">1</text><text x="3822" y="1976" style="font-size:11px">2</text><text x="3822" y="2026" style="font-size:11px">3</text><text x="3822" y="2076" style="font-size:11px">4</text><text x="3822" y="2127" style="font-size:11px">5</text><text x="3822" y="2177" style="font-size:11px">6</text><text x="3822" y="2228" style="font-size:11px">7</text><text x="3822" y="2278" style="font-size:11px">8</text>
</g>
<g class="lg" transform="translate(3846 0) scale(0.63 1)">
<text x="0" y="1100">LINIA 1 - BISCUITI GLUTENOSI SI ZAHAROSI</text>
<text x="0" y="1120">CAPACITATE MEDIE 20 TO. BISCUITI / 24 ORE</text>
<text x="0" y="1161">MIXER DE MARE VITEZA</text>
<text x="0" y="1191">CARUCIOARE ALUAT</text>
<text x="0" y="1220">RIDICATOR - RASTURNATOR DE CUVE</text>
<text x="0" y="1250">SISTEM DE PRELAMINARE ALUAT PREVAZUT CU</text>
<text x="0" y="1270">DETECTOR DE METALE</text>
<text x="0" y="1300">SISTEM DE LAMINARE ALUAT FORMAT DIN 3 GRUPURI DE</text>
<text x="0" y="1320">VALTURI SI BENZI INTERMEDIARE</text>
<text x="0" y="1352">SISTEM DE MODELARE PRIN STANTARE (PENTRU BISCUITI</text>
<text x="0" y="1371">GLUTENOSI) PREVAZUT CU BANDA DE RECUPERARE ALUAT</text>
<text x="0" y="1400">SISTEM DE MODELARE PRIN PRESARE (PENTRU BISCUITI</text>
<text x="0" y="1421">ZAHAROŞI)</text>
<text x="0" y="1451">SISTEM DE MODELARE PRIN EXTRUDARE (TREFILARE)</text>
<text x="0" y="1481">DISPOZITIV DE PRESARE (ZAHAR, SEMINTE)</text>
<text x="0" y="1511">CUPTOR HIBRID CU BANDA METALICA CONTINUA</text>
<text x="0" y="1541">BANDA DE RACIRE</text>
<text x="0" y="1570">TUNEL DE RACIRE</text>
<text x="0" y="1601">SECTIUNE PREPARARE CREMA FORMATA DIN MIXERE CREMA,</text>
<text x="0" y="1620">REZERVOR DE ALIMENTARE, SISTEM DE POMPARE CREMA</text>
<text x="0" y="1651">SISTEM DE FORMARE SANDWICH BISCUITI</text>
<text x="0" y="1684">MASINA TEMPERAT CIOCOLATA PENTRU PREPARAREA DE</text>
<text x="0" y="1705">CIOCOLATA LICHIDA SI ALIMENTAREA MASINII DE GLAZURAT</text>
<text x="0" y="1733">MASINA DE GLAZURAT CIOCOLATA</text>
<text x="0" y="1763">TUNEL DE RACIRE</text>
<text x="2" y="1789">GRUP AMBALARE LINIA 1</text>
<text x="0" y="1865">INSTALATIE DE DEPOZITARE, TRANSPORT, DOZARE</text>
<text x="0" y="1886">FAINA, ZAHAR, ULEI DE PALMIER SI APA</text>
<text x="0" y="1931">GRUP DESCARCARE SI DEPOZITARE</text><text x="0" y="1952">FAINA ALBA DE GRAU</text>
<text x="0" y="1981">GRUP DESCARCARE SI DEPOZITARE</text><text x="0" y="2001">FAINA NEAGRA DE GRAU</text>
<text x="0" y="2031">GRUP DESCARCARE SI DEPOZITARE</text><text x="0" y="2052">FAINA INTEGRALA DE DE GRAU</text>
<text x="0" y="2081">GRUP DESCARCARE SI DEPOZITARE</text><text x="0" y="2102">ZAHAR</text>
<text x="0" y="2132">INSTALATIE PENTRU OBTINERE ZAHAR</text><text x="0" y="2153">FARIN SI SISTEM DE DOZARE</text>
<text x="0" y="2182">INSTALATIE PENTRU OBTINERE ZAHAR</text><text x="0" y="2204">INVERTIT SI SISTEM DE DOZARE</text>
<text x="0" y="2233">ECHIPAMENT PENTRU TOPIRE ULEI DE</text><text x="0" y="2253">PALMIER SI SISTEM DE DOZARE</text>
<text x="0" y="2283">SISISTEM DE DOZARE APA RACITA /</text><text x="0" y="2303">CALDA / APA RETEA</text>
</g>
<line x1="3846" y1="2061" x2="4030" y2="2061" stroke="#40d0e0" stroke-width="2"/>
<g class="lg" transform="translate(4272 0) scale(0.63 1)">
<text x="0" y="1100">LINIA 2 - BISCUITI GLUTENOSI SI CRAKERS</text>
<text x="0" y="1120">CAPACITATE MEDIE 10 TO. BISCUITI / 24 ORE</text>
<text x="0" y="1161">MIXER DE MARE VITEZA</text>
<text x="0" y="1191">MIXER VERTICAL CU DUBLA SPIRALA</text>
<text x="0" y="1220">CARUCIOARE ALUAT</text>
<text x="0" y="1250">RIDICATOR - RASTURNATOR DE CUVE</text>
<text x="0" y="1280">SISTEM DE PRELAMINARE ALUAT PREVAZUT CU</text>
<text x="0" y="1300">DETECTOR DE METALE</text>
<text x="0" y="1330">SISTEM DE LAMINARE ALUAT FORMAT DIN 3 GRUPURI DE</text>
<text x="0" y="1350">VALTURI SI BENZI INTERMEDIARE</text>
<text x="0" y="1380">SISTEM DE MODELARE PRIN STANTARE (PENTRU BISCUITI</text>
<text x="0" y="1400">GLUTENOSI) PREVAZUT CU BANDA DE RECUPERARE ALUAT</text>
<text x="0" y="1430">BAIE SODA CAUSTICA</text>
<text x="0" y="1461">DISPOZITIV DE PRESARE (SARE, CONDIMENTE)</text>
<text x="0" y="1490">CUPTOR HIBRID CU BANDA METALICA CONTINUA</text>
<text x="0" y="1520">MASINA DE PULVERIZAT ULEI</text>
<text x="0" y="1550">BANDA DE RACIRE</text>
<text x="0" y="1575">GRUP AMBALARE LINIA 2</text>
</g>

<!-- TITLE BLOCK -->
<g stroke="#000" fill="none">
<rect x="4172" y="2250" width="453" height="110" stroke-width="3"/>
<g stroke-width="1.5">
<line x1="4172" y1="2258" x2="4625" y2="2258"/><line x1="4172" y1="2266" x2="4625" y2="2266"/><line x1="4172" y1="2275" x2="4625" y2="2275"/>
<line x1="4172" y1="2305" x2="4625" y2="2305"/><line x1="4172" y1="2313" x2="4340" y2="2313"/><line x1="4172" y1="2325" x2="4390" y2="2325"/><line x1="4172" y1="2337" x2="4340" y2="2337"/><line x1="4172" y1="2348" x2="4340" y2="2348"/><line x1="4340" y1="2337" x2="4625" y2="2337"/>
<line x1="4221" y1="2250" x2="4221" y2="2275"/><line x1="4221" y1="2305" x2="4221" y2="2360"/>
<line x1="4297" y1="2250" x2="4297" y2="2275"/><line x1="4297" y1="2305" x2="4297" y2="2360"/>
<line x1="4340" y1="2250" x2="4340" y2="2360"/><line x1="4390" y1="2250" x2="4390" y2="2360"/><line x1="4590" y1="2275" x2="4590" y2="2360"/>
</g>
</g>
<rect x="4345" y="2282" width="28" height="14" fill="#40c040"/>
<g class="tb">
<text x="4175" y="2256">Specificatie</text><text x="4240" y="2256">Numele</text><text x="4300" y="2256">Semnatura</text><text x="4345" y="2256">Cerinta</text><text x="4395" y="2256">Referat nr./data</text>
<text x="4175" y="2264">Verificator</text><text x="4224" y="2264">dr.ing. Iosif Gosav</text><text x="4342" y="2264">A1 A2 B1 C</text><text x="4395" y="2264">Referat de verificare ........</text>
<text x="4175" y="2273">Expert tehnic</text><text x="4224" y="2273">dr.ing. Iosif Gosav</text><text x="4342" y="2273">A1 A2 B1 C</text><text x="4395" y="2273">Referat expertiza nr. 2025/2011</text>
<text x="4175" y="2286">PROIECTANT GENERAL: SC EXPRODOR</text><text x="4175" y="2299" style="font-size:9px;font-weight:bold">PROIECTANT SPECIALITATE: SC ARHICONSTRUCT SA</text>
<text x="4395" y="2285">BENEFICIAR:</text><text x="4395" y="2295">SC VELROM SRL TARGOVISTE, PUNCT DE LUCRU IASI</text><text x="4594" y="2288">Contract</text><text x="4596" y="2296">78/11</text>
<text x="4175" y="2311">Specificatie</text><text x="4240" y="2311">Numele</text><text x="4300" y="2311">Semnatura</text><text x="4352" y="2313">Scara</text><text x="4352" y="2322">1:100</text>
<text x="4175" y="2321">Sef Proiect</text><text x="4224" y="2321">dr.ing. Iosif Gosav</text>
<text x="4175" y="2334">Proiectat</text><text x="4224" y="2334">arh. Cerna Nistor</text>
<text x="4175" y="2346">Desenat</text><text x="4224" y="2346">ing. Neagu Iulian</text><text x="4347" y="2350">mart. 2011</text>
<text x="4450" y="2352" style="font-size:10px;font-weight:bold">PLAN COTA + 5.50</text>
<text x="4598" y="2354" style="font-size:14px;font-weight:bold">A4</text>
</g>
</svg>
</body></html>
